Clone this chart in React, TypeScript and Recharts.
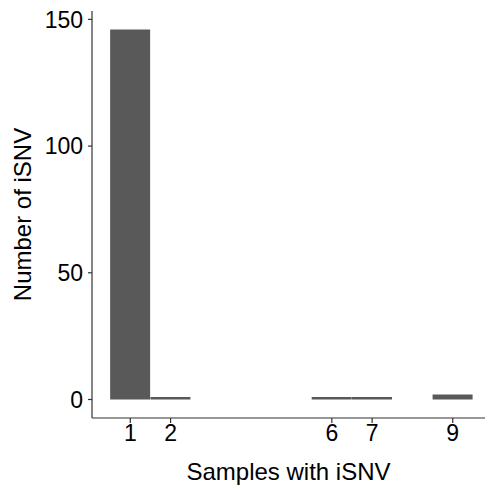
import { BarChart, Bar, XAxis, YAxis, Label } from 'recharts'

const samples = [1, 2, 3, 4, 5, 6, 7, 8, 9]
const counts = [146, 1, 0, 0, 0, 1, 1, 0, 2]
const xTicks = [1, 2, 6, 7, 9]
const yTicks = [0, 50, 100, 150]

const data = samples.map((s, i) => ({ samples: s, count: counts[i] }))

const FONT = '"Liberation Sans", Arial, sans-serif'
const AXIS = '#333333'

export default function App() {
  return (
    <div style={{ position: 'absolute', left: 0, top: 0, width: 485, height: 486, background: '#fff' }}>
      <BarChart
        width={485}
        height={486}
        data={data}
        margin={{ top: 11, right: 0, bottom: 0, left: 0 }}
        barCategoryGap={0}
        barGap={0}
      >
        <XAxis
          dataKey="samples"
          type="number"
          domain={[0.05, 9.8]}
          ticks={xTicks}
          allowDataOverflow
          height={68}
          tickSize={5}
          tickMargin={2}
          axisLine={{ stroke: AXIS, strokeWidth: 1.2 }}
          tickLine={{ stroke: AXIS, strokeWidth: 1.2 }}
          tick={{ fill: '#000', fontSize: 23, fontFamily: FONT }}
        >
          <Label
            value="Samples with iSNV"
            position="insideBottom"
            offset={6}
            style={{ fill: '#000', fontSize: 24, fontFamily: FONT }}
          />
        </XAxis>
        <YAxis
          type="number"
          domain={[-7.3, 153.3]}
          ticks={yTicks}
          allowDataOverflow
          width={92}
          tickSize={4}
          tickMargin={5}
          axisLine={{ stroke: AXIS, strokeWidth: 1.2 }}
          tickLine={{ stroke: AXIS, strokeWidth: 1.2 }}
          tick={{ fill: '#000', fontSize: 23, fontFamily: FONT }}
        >
          <Label
            value="Number of iSNV"
            angle={-90}
            position="insideLeft"
            offset={22}
            style={{ textAnchor: 'middle', fill: '#000', fontSize: 24, fontFamily: FONT }}
          />
        </YAxis>
        <Bar dataKey="count" fill="#595959" barSize={40} isAnimationActive={false} />
      </BarChart>
    </div>
  )
}
